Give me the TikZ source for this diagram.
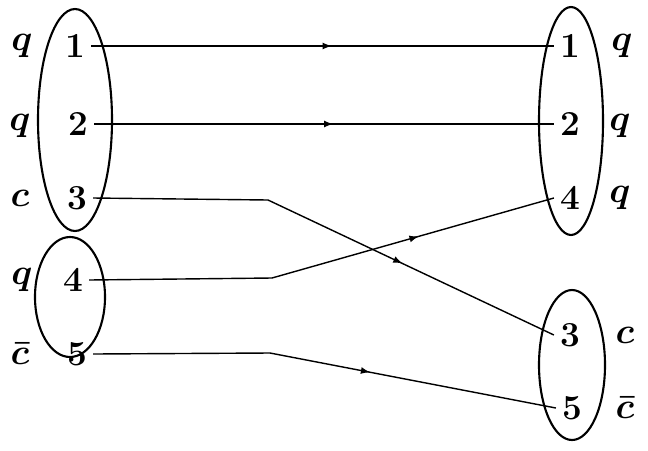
\documentclass[tikz,border=0pt]{standalone}
\usepackage{amsmath}
\usetikzlibrary{decorations.markings}
\tikzset{
    oval/.style={draw, very thick},
    num/.style={font=\fontsize{20}{24}\selectfont\bfseries},
    flav/.style={font=\fontsize{20}{24}\selectfont\boldmath},
    link/.style={thick},
    midarrow/.style={
        postaction={decorate},
        decoration={markings,
            mark=at position #1 with {\arrow{latex}}}
    }
}
\begin{document}
\begin{tikzpicture}[x=0.02cm,y=-0.02cm]
	\useasboundingbox (0,0) rectangle (648,450);

	\draw[oval] (75,120) ellipse (37 and 111);
	\draw[oval] (70,297) ellipse (35 and 60);
	\draw[oval] (571,121) ellipse (32 and 114);
	\draw[oval] (572,365) ellipse (33 and 75);

	\node[num] (l1) at (75,46) {1};
	\node[num] (l2) at (78,124) {2};
	\node[num] (l3) at (77,198) {3};
	\node[num] (l4) at (73,280) {4};
	\node[num] (l5) at (77,354) {5};
	\node[flav] at (22,46) {$q$};
	\node[flav] at (20,126) {$q$};
	\node[flav] at (20,198) {$c$};
	\node[flav] at (22,280) {$q$};
	\node[flav] at (20,354) {$\bar{c}$};

	\node[num] (r1) at (570,46) {1};
	\node[num] (r2) at (570,124) {2};
	\node[num] (r4) at (570,198) {4};
	\node[num] (r3) at (570,335) {3};
	\node[num] (r5) at (572,408) {5};
	\node[flav] at (622,46) {$q$};
	\node[flav] at (620,126) {$q$};
	\node[flav] at (620,198) {$q$};
	\node[flav] at (625,335) {$c$};
	\node[flav] at (625,408) {$\bar{c}$};

	\coordinate (k3) at (268,200);
	\coordinate (k4) at (272,278);
	\coordinate (k5) at (270,353);

	\draw[link,midarrow=0.52] (l1.east) -- (r1.west);
	\draw[link,midarrow=0.52] (l2.east) -- (r2.west);
	\draw[link] (l3.east) -- (k3);
	\draw[link,midarrow=0.47] (k3) -- (r3.west);
	\draw[link] (l4.east) -- (k4);
	\draw[link,midarrow=0.52] (k4) -- (r4.west);
	\draw[link] (l5.east) -- (k5);
	\draw[link,midarrow=0.35] (k5) -- (r5.west);
\end{tikzpicture}
\end{document}
